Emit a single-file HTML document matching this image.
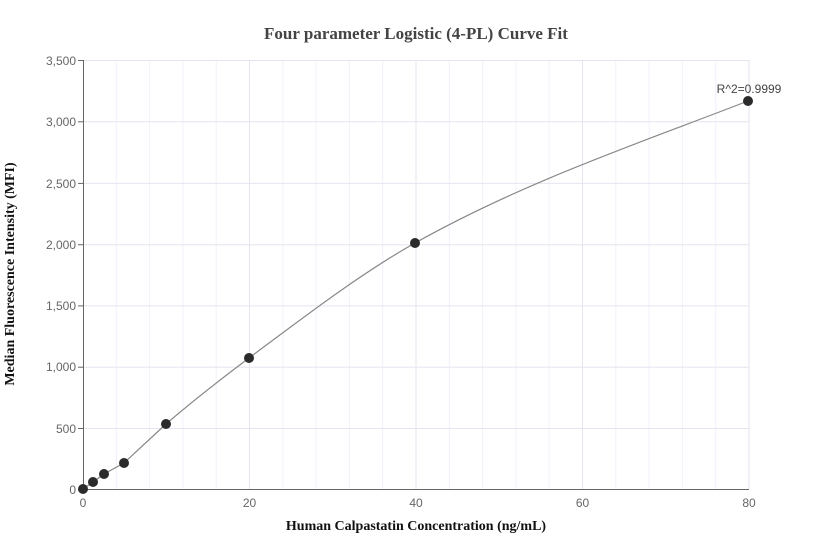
<!DOCTYPE html>
<html><head><meta charset="utf-8"><style>
body{margin:0;background:#fff;}
svg{display:block;}
text{font-family:"Liberation Sans",sans-serif;}
.t{font-family:"Liberation Serif",serif;font-weight:bold;}
</style></head><body>
<svg width="832" height="560" xmlns="http://www.w3.org/2000/svg">
<rect width="832" height="560" fill="#fff"/>
<g stroke="#f0f2fa" stroke-width="1">
<line x1="116.3" y1="60" x2="116.3" y2="489"/><line x1="149.6" y1="60" x2="149.6" y2="489"/><line x1="182.9" y1="60" x2="182.9" y2="489"/><line x1="216.2" y1="60" x2="216.2" y2="489"/>
<line x1="282.8" y1="60" x2="282.8" y2="489"/><line x1="316.1" y1="60" x2="316.1" y2="489"/><line x1="349.4" y1="60" x2="349.4" y2="489"/><line x1="382.7" y1="60" x2="382.7" y2="489"/>
<line x1="449.3" y1="60" x2="449.3" y2="489"/><line x1="482.6" y1="60" x2="482.6" y2="489"/><line x1="515.9" y1="60" x2="515.9" y2="489"/><line x1="549.2" y1="60" x2="549.2" y2="489"/>
<line x1="615.8" y1="60" x2="615.8" y2="489"/><line x1="649.1" y1="60" x2="649.1" y2="489"/><line x1="682.4" y1="60" x2="682.4" y2="489"/><line x1="715.7" y1="60" x2="715.7" y2="489"/>
</g>
<g stroke="#e3e6f0" stroke-width="1">
<line x1="249.5" y1="60" x2="249.5" y2="489"/><line x1="416" y1="60" x2="416" y2="489"/><line x1="582.5" y1="60" x2="582.5" y2="489"/><line x1="749" y1="60" x2="749" y2="489"/>
<line x1="83" y1="60.5" x2="749" y2="60.5"/><line x1="83" y1="121.8" x2="749" y2="121.8"/><line x1="83" y1="183.4" x2="749" y2="183.4"/><line x1="83" y1="244.7" x2="749" y2="244.7"/><line x1="83" y1="305.9" x2="749" y2="305.9"/><line x1="83" y1="367.2" x2="749" y2="367.2"/><line x1="83" y1="428.5" x2="749" y2="428.5"/>
</g>
<g stroke="#666" stroke-width="1">
<line x1="83.5" y1="60" x2="83.5" y2="490"/><line x1="83" y1="489.5" x2="749" y2="489.5"/>
<line x1="78" y1="60.5" x2="83" y2="60.5"/><line x1="78" y1="121.8" x2="83" y2="121.8"/><line x1="78" y1="183.4" x2="83" y2="183.4"/><line x1="78" y1="244.7" x2="83" y2="244.7"/><line x1="78" y1="305.9" x2="83" y2="305.9"/><line x1="78" y1="367.2" x2="83" y2="367.2"/><line x1="78" y1="428.5" x2="83" y2="428.5"/><line x1="78" y1="489.5" x2="83" y2="489.5"/>
</g>
<g font-size="12" fill="#666" text-anchor="end">
<text x="76" y="65">3,500</text><text x="76" y="126">3,000</text><text x="76" y="188">2,500</text><text x="76" y="249">2,000</text><text x="76" y="310">1,500</text><text x="76" y="371">1,000</text><text x="76" y="433">500</text><text x="76" y="494">0</text>
</g>
<g font-size="12" fill="#666" text-anchor="middle">
<text x="83" y="507">0</text><text x="249.5" y="507">20</text><text x="416" y="507">40</text><text x="582.5" y="507">60</text><text x="749" y="507">80</text>
</g>
<path d="M83,489 L93,482 L104,474 L124,463 L166,424 C194,400 221,379 249,358 C304,317 360,274 415,243 C526,181 637,144 748,101" fill="none" stroke="#888" stroke-width="1.2"/>
<g fill="#2b2b2b">
<circle cx="83" cy="489" r="5"/><circle cx="93" cy="482" r="5"/><circle cx="104" cy="474" r="5"/><circle cx="124" cy="463" r="5"/><circle cx="166" cy="424" r="5"/><circle cx="249" cy="358" r="5"/><circle cx="415" cy="243" r="5"/><circle cx="748" cy="101" r="5"/>
</g>
<text x="749" y="93" font-size="12" fill="#444" text-anchor="middle">R^2=0.9999</text>
<text class="t" x="416" y="39" font-size="17" fill="#444" text-anchor="middle">Four parameter Logistic (4-PL) Curve Fit</text>
<text class="t" x="416" y="530" font-size="14" fill="#111" text-anchor="middle">Human Calpastatin Concentration (ng/mL)</text>
<text class="t" x="0" y="0" font-size="14" fill="#111" text-anchor="middle" transform="translate(14,274) rotate(-90)">Median Fluorescence Intensity (MFI)</text>
</svg>
</body></html>
